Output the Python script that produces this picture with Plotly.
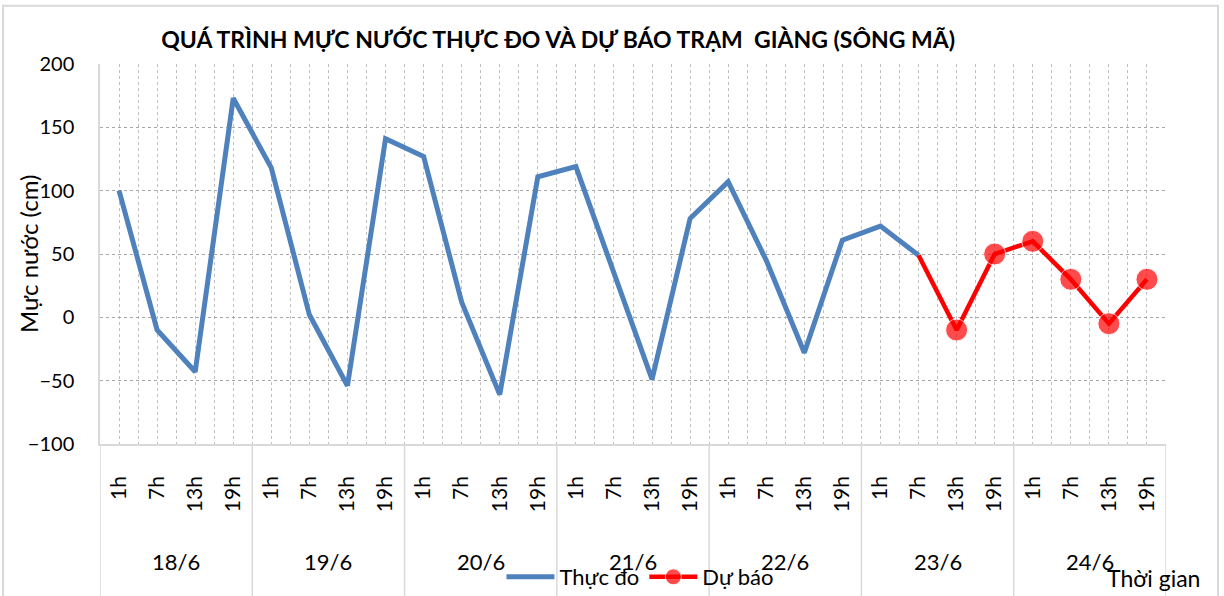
import plotly.graph_objects as go

days = ["18/6", "19/6", "20/6", "21/6", "22/6", "23/6", "24/6"]
hours = ["1h", "7h", "13h", "19h"]

observed = [100, -10, -43, 173,
            118, 2, -54, 141,
            127, 12, -61, 111,
            119, 35, -49, 78,
            107, 45, -28, 61,
            72, 49]
forecast = [49, -10, 50, 60, 30, -5, 30]

title_text = "QUÁ TRÌNH MỰC NƯỚC THỰC ĐO VÀ DỰ BÁO TRẠM  GIÀNG (SÔNG MÃ)"

n = len(days) * len(hours)
idx = list(range(n))
tick_text = [h for d in days for h in hours]
obs_x = idx[:len(observed)]
fc_x = idx[len(observed) - 1:len(observed) - 1 + len(forecast)]

FONT = "Lato"
BLUE = "#4F81BD"
RED = "#FF0000"

fig = go.Figure()
fig.add_trace(go.Scatter(
    x=obs_x, y=observed, mode="lines", name="Thực đo",
    line=dict(color=BLUE, width=5)))
fig.add_trace(go.Scatter(
    x=fc_x, y=forecast, mode="lines+markers", name="Dự báo",
    line=dict(color=RED, width=4.5),
    marker=dict(color=RED, size=[0] + [22] * (len(forecast) - 1))))

shapes = []
for k in range(len(days) + 1):
    xv = k * len(hours) - 0.5
    shapes.append(dict(type="line", xref="x", yref="paper", x0=xv, x1=xv,
                       y0=0, y1=-0.42, line=dict(color="#D9D9D9", width=1.5)))
# outer chart frame
shapes.append(dict(type="rect", xref="paper", yref="paper",
                   x0=-0.091, x1=1.0488, y0=-0.45, y1=1.1535,
                   line=dict(color="#D9D9D9", width=2), layer="below"))

annotations = []
for k, d in enumerate(days):
    annotations.append(dict(x=k * len(hours) + 1.5, xref="x", y=-0.308, yref="paper",
                            text=d, showarrow=False, xanchor="center", yanchor="middle",
                            font=dict(family=FONT, size=22, color="#000")))
annotations.append(dict(x=0.988, xref="paper", y=-0.352, yref="paper", text="Thời gian",
                        showarrow=False, xanchor="center", yanchor="middle",
                        font=dict(family=FONT, size=23, color="#000")))
annotations.append(dict(x=-0.0675, xref="paper", y=0.5, yref="paper", text="Mực nước (cm)",
                        textangle=-90, showarrow=False, xanchor="center", yanchor="middle",
                        font=dict(family=FONT, size=24, color="#000")))

fig.update_layout(
    width=1224, height=596,
    margin=dict(l=100, r=58, t=64, b=152, autoexpand=False),
    paper_bgcolor="white", plot_bgcolor="white",
    title=dict(text="<b>" + title_text + "</b>", x=0.456, xanchor="center",
               y=0.933, yanchor="middle",
               font=dict(family=FONT, size=23, color="#000")),
    showlegend=True,
    legend=dict(orientation="h", x=0.507, xanchor="center", y=-0.35, yanchor="middle",
                font=dict(family=FONT, size=22, color="#000"),
                bgcolor="rgba(0,0,0,0)", itemwidth=48, tracegroupgap=0),
    shapes=shapes, annotations=annotations,
    xaxis=dict(range=[-0.5, n - 0.5], tickmode="array", tickvals=idx, ticktext=tick_text,
               tickangle=-90, ticks="", ticklabelstandoff=22,
               tickfont=dict(family=FONT, size=21, color="#000"),
               showgrid=True, gridcolor="#BFBFBF", griddash="dot", gridwidth=1,
               minor=dict(tickvals=[i - 0.5 for i in idx], showgrid=True,
                          gridcolor="#BFBFBF", griddash="dot", gridwidth=1),
               showline=True, linecolor="#D9D9D9", linewidth=1.5, mirror=False,
               zeroline=False),
    yaxis=dict(range=[-100, 200], tickmode="linear", tick0=-100, dtick=50,
               ticks="", ticklabelstandoff=20,
               tickfont=dict(family=FONT, size=20, color="#000"),
               showgrid=True, gridcolor="#A6A6A6", griddash="dot", gridwidth=1.2,
               showline=True, linecolor="#D9D9D9", linewidth=1.5, zeroline=False),
)

fig.write_html("out.html", config={"displayModeBar": False},
               post_script="document.body.style.margin='0px';")
